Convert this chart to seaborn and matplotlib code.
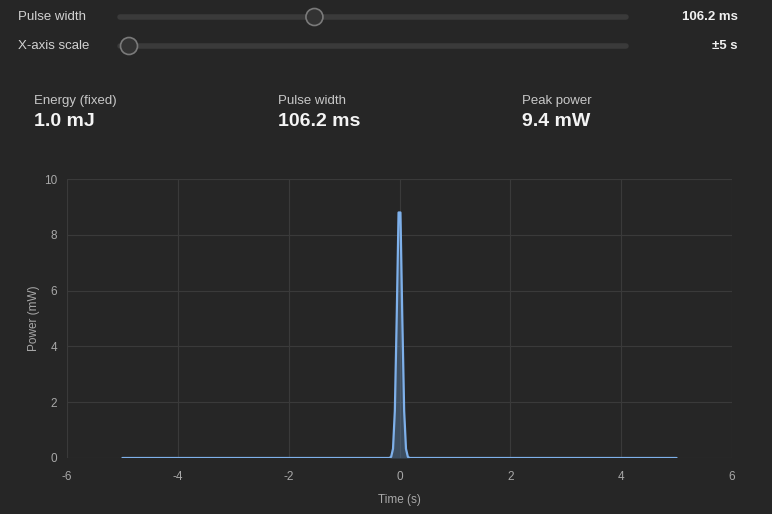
import matplotlib
matplotlib.use("Agg")
import matplotlib.pyplot as plt
import seaborn as sns
import pandas as pd
from matplotlib.patches import Circle
from matplotlib.lines import Line2D

# ---- data ----
time_s = [-5.0, -0.184, -0.151, -0.117, -0.084, -0.050, -0.017,
          0.017, 0.050, 0.084, 0.117, 0.151, 0.184, 5.0]
power_mw = [0.0, 0.0, 0.04, 0.33, 1.69, 5.06, 8.8,
            8.8, 5.06, 1.69, 0.33, 0.04, 0.0, 0.0]
x_ticks = [-6, -4, -2, 0, 2, 4, 6]
y_ticks = [0, 2, 4, 6, 8, 10]
slider_labels = ["Pulse width", "X-axis scale"]
slider_values = ["106.2 ms", "±5 s"]
slider_fraction = [0.38, 0.0]
stat_labels = ["Energy (fixed)", "Pulse width", "Peak power"]
stat_values = ["1.0 mJ", "106.2 ms", "9.4 mW"]

BG = "#262626"
GRID = "#3a3a3a"
TICK = "#a8a8a8"
LINE = "#7eb0ea"

sns.set_theme(style="dark", rc={
    "figure.facecolor": BG, "axes.facecolor": BG,
    "axes.edgecolor": BG, "grid.color": GRID,
    "text.color": TICK, "axes.labelcolor": TICK,
    "xtick.color": TICK, "ytick.color": TICK,
    "axes.unicode_minus": False,
})
plt.rcParams["font.family"] = ["Liberation Sans", "DejaVu Sans"]
plt.rcParams["axes.unicode_minus"] = False
NARROW = ["Liberation Sans Narrow", "Liberation Sans", "DejaVu Sans"]

W, H = 772, 514
fig = plt.figure(figsize=(W / 100, H / 100), dpi=100)

def fx(px):
    return px / W

def fy(py):
    return 1 - py / H

# sliders
track_l, track_r = 120, 626
for i, (lab, val, frac) in enumerate(zip(slider_labels, slider_values, slider_fraction)):
    yy = [17, 46][i]
    fig.text(fx(18), fy(yy), lab, family=NARROW, fontsize=9.5, color="#d2d2d2",
             va="center", ha="left")
    fig.add_artist(Line2D([fx(track_l), fx(track_r)], [fy(yy), fy(yy)],
                          transform=fig.transFigure, color="#3a3a3a", lw=4,
                          solid_capstyle="round"))
    cx = track_l + 9 + frac * (track_r - track_l - 18)
    fig.add_artist(Circle((cx, H - yy), 8.5, transform=None, facecolor="#333333",
                          edgecolor="#7a7a7a", lw=1.2, zorder=5))
    fig.text(fx(738), fy(yy), val, family=NARROW, fontsize=9.5, color="#f0f0f0",
             weight="bold", va="center", ha="right")

# stats
for lab, val, px in zip(stat_labels, stat_values, [34, 278, 522]):
    fig.text(fx(px), fy(101), lab, family=NARROW, fontsize=9.5, color="#c8c8c8",
             va="center", ha="left")
    fig.text(fx(px), fy(122), val, family=NARROW, fontsize=14, color="#f4f4f4",
             weight="bold", va="center", ha="left")

# chart
ax = fig.add_axes([fx(67), fy(458), fx(732) - fx(67), fy(179) - fy(458)])
df = pd.DataFrame({"Time (s)": time_s, "Power (mW)": power_mw})
sns.lineplot(data=df, x="Time (s)", y="Power (mW)", ax=ax, color=LINE, lw=1.6)
ax.fill_between(df["Time (s)"], df["Power (mW)"], color="#5a7fa8", alpha=0.45, lw=0)
ax.set_xlim(-6, 6)
ax.set_ylim(0, 10)
ax.set_xticks(x_ticks)
ax.set_yticks(y_ticks)
ax.grid(True, color=GRID, lw=0.8)
for s in ax.spines.values():
    s.set_visible(False)
ax.tick_params(axis="both", labelsize=8.5, length=4, color=GRID)
ax.tick_params(axis="x", pad=5)
ax.tick_params(axis="y", pad=3)
ax.set_xlabel("Time (s)", fontsize=8.5, labelpad=8)
ax.set_ylabel("Power (mW)", fontsize=8.5, labelpad=3)

fig.savefig("out.png", dpi=100, facecolor=BG)
